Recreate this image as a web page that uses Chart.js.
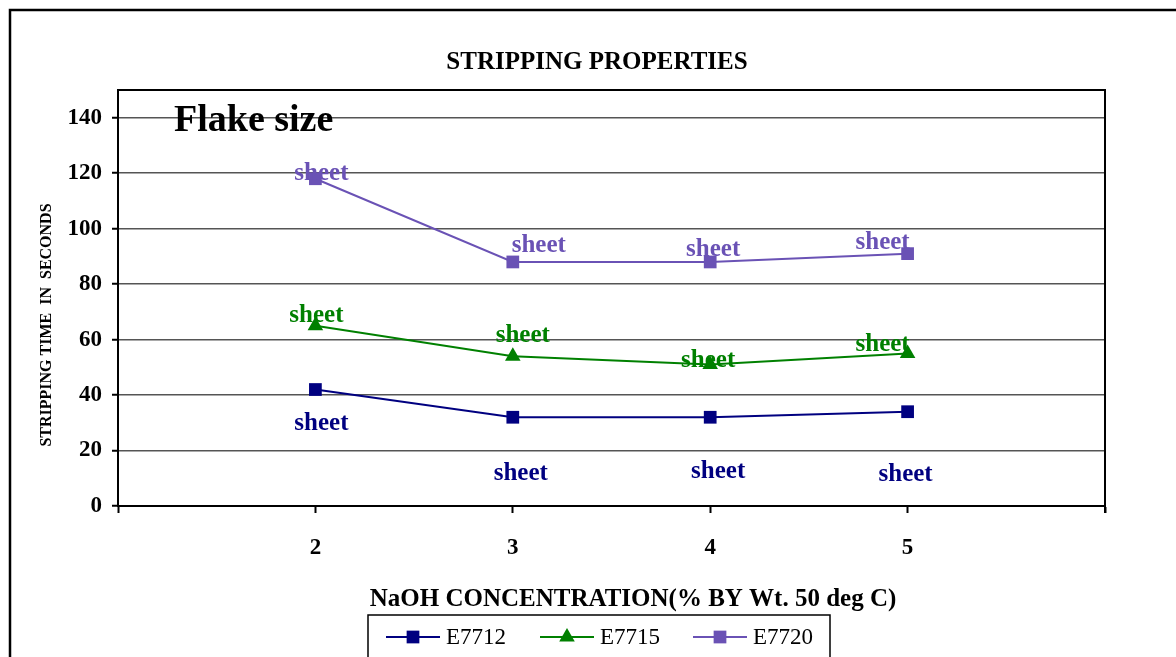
<!DOCTYPE html>
<html>
<head>
<meta charset="utf-8">
<script src="https://cdn.jsdelivr.net/npm/chart.js@4.4.1/dist/chart.umd.min.js"></script>
<style>
    html, body { margin: 0; padding: 0; background: #fff; }
    #wrap { width: 1176px; height: 657px; position: relative; }
</style>
</head>
<body>
<div id="wrap"><canvas id="chart"></canvas></div>
<script>
// NaOH concentration (% by wt) on the x axis
const concentrations = [2, 3, 4, 5];

// stripping time in seconds
const e7712 = [42, 32, 32, 34];
const e7715 = [65, 54, 51, 55];
const e7720 = [118, 88, 88, 91];

// flake size text written next to each point
const flakeE7712 = ["sheet", "sheet", "sheet", "sheet"];
const flakeE7715 = ["sheet", "sheet", "sheet", "sheet"];
const flakeE7720 = ["sheet", "sheet", "sheet", "sheet"];

const seriesNames = ["E7712", "E7715", "E7720"];

const SERIF = "'Liberation Serif', 'DejaVu Serif', serif";
const NAVY = '#000080';
const GREEN = '#008000';
const PURPLE = '#6A52B5';

function toPoints(values) {
    return concentrations.map((c, i) => ({ x: c, y: values[i] }));
}

// where each "sheet" label sits relative to its point (px)
const labelOffsets = [
    [[6, 34], [8, 56], [8, 54], [-2, 63]],
    [[1, -10], [10, -21], [-2, -4], [-25, -9]],
    [[6, -5], [26, -16], [3, -12], [-25, -11]]
];
const flakeTexts = [flakeE7712, flakeE7715, flakeE7720];

const decorPlugin = {
    id: 'decor',
    afterDatasetsDraw(chart) {
        const ctx = chart.ctx;
        const area = chart.chartArea;
        ctx.save();

        // plot frame top and right
        ctx.strokeStyle = '#000';
        ctx.lineWidth = 2;
        ctx.beginPath();
        ctx.moveTo(area.left, area.top);
        ctx.lineTo(area.right, area.top);
        ctx.lineTo(area.right, area.bottom + 7);
        ctx.stroke();

        // outer border of the figure
        ctx.lineWidth = 2.5;
        ctx.beginPath();
        ctx.moveTo(10, 700);
        ctx.lineTo(10, 10);
        ctx.lineTo(1200, 10);
        ctx.stroke();

        ctx.fillStyle = '#000';
        ctx.textAlign = 'center';
        ctx.textBaseline = 'middle';
        ctx.font = 'bold 25px ' + SERIF;
        ctx.fillText('STRIPPING PROPERTIES', 597, 63);
        ctx.fillText('NaOH CONCENTRATION(% BY Wt. 50 deg C)', 633, 600);

        ctx.font = 'bold 38px ' + SERIF;
        ctx.textAlign = 'left';
        ctx.fillText('Flake size', 174, 121);

        // y axis title
        ctx.save();
        ctx.translate(47, 325);
        ctx.rotate(-Math.PI / 2);
        ctx.textAlign = 'center';
        ctx.font = 'bold 16px ' + SERIF;
        ctx.fillText('STRIPPING TIME  IN  SECONDS', 0, 0);
        ctx.restore();

        // point labels
        ctx.textAlign = 'center';
        ctx.font = 'bold 25px ' + SERIF;
        chart.data.datasets.forEach((ds, di) => {
            const meta = chart.getDatasetMeta(di);
            ctx.fillStyle = ds.borderColor;
            meta.data.forEach((pt, i) => {
                const off = labelOffsets[di][i];
                ctx.fillText(flakeTexts[di][i], pt.x + off[0], pt.y + off[1]);
            });
        });

        // legend
        ctx.strokeStyle = '#000';
        ctx.lineWidth = 1.5;
        ctx.strokeRect(368, 615, 462, 80);
        const legendX = [386, 540, 693];
        chart.data.datasets.forEach((ds, di) => {
            const x0 = legendX[di];
            const y0 = 637;
            ctx.strokeStyle = ds.borderColor;
            ctx.lineWidth = 2;
            ctx.beginPath();
            ctx.moveTo(x0, y0);
            ctx.lineTo(x0 + 54, y0);
            ctx.stroke();
            ctx.fillStyle = ds.borderColor;
            Chart.helpers.drawPoint(ctx, {
                pointStyle: ds.pointStyle,
                radius: ds.pointRadius,
                rotation: 0,
                borderWidth: 0
            }, x0 + 27, y0);
            ctx.fillStyle = '#000';
            ctx.textAlign = 'left';
            ctx.font = '23px ' + SERIF;
            ctx.fillText(seriesNames[di], x0 + 60, y0 + 1);
        });

        ctx.restore();
    }
};

function lineSet(name, values, color, style, radius) {
    return {
        label: name,
        data: toPoints(values),
        borderColor: color,
        backgroundColor: color,
        pointBackgroundColor: color,
        pointBorderColor: color,
        pointBorderWidth: 0,
        pointStyle: style,
        pointRadius: radius,
        borderWidth: 2,
        tension: 0
    };
}

new Chart(document.getElementById('chart'), {
    type: 'line',
    data: {
        datasets: [
            lineSet(seriesNames[0], e7712, NAVY, 'rect', 9),
            lineSet(seriesNames[1], e7715, GREEN, 'triangle', 9),
            lineSet(seriesNames[2], e7720, PURPLE, 'rect', 9)
        ]
    },
    options: {
        responsive: true,
        maintainAspectRatio: false,
        animation: false,
        layout: { padding: { left: 0, top: 90, right: 71, bottom: 0 } },
        plugins: {
            legend: { display: false },
            title: { display: false },
            tooltip: { enabled: false }
        },
        scales: {
            x: {
                type: 'linear',
                min: 1,
                max: 6,
                afterFit: (scale) => { scale.height = 151; },
                ticks: {
                    stepSize: 1,
                    padding: 21,
                    color: '#000',
                    font: { family: SERIF, size: 23, weight: 'bold' },
                    callback: (v) => (v >= 2 && v <= 5) ? String(v) : ''
                },
                grid: {
                    drawOnChartArea: false,
                    drawTicks: true,
                    tickLength: 7,
                    tickColor: '#000',
                    tickWidth: 2
                },
                border: { display: true, color: '#000', width: 2 }
            },
            y: {
                min: 0,
                max: 150,
                afterFit: (scale) => { scale.width = 118; },
                afterBuildTicks: (scale) => {
                    scale.ticks = scale.ticks.filter(t => t.value <= 140);
                },
                ticks: {
                    stepSize: 20,
                    padding: 10,
                    color: '#000',
                    font: { family: SERIF, size: 23, weight: 'bold' }
                },
                grid: {
                    color: '#555',
                    lineWidth: 1.5,
                    tickLength: 6,
                    tickColor: '#000',
                    tickWidth: 2
                },
                border: { display: true, color: '#000', width: 2 }
            }
        }
    },
    plugins: [decorPlugin]
});
</script>
</body>
</html>
